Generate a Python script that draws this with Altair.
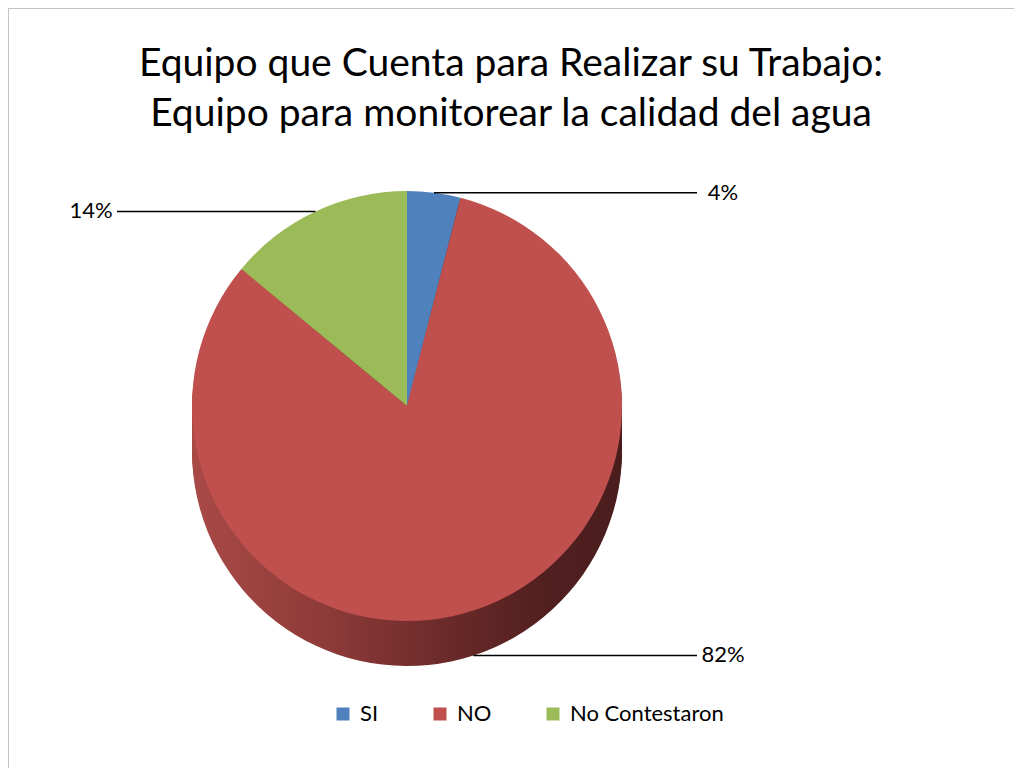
import altair as alt
import pandas as pd

# ---- data ----
categories = ["SI", "NO", "No Contestaron"]
percentages = [4, 82, 14]
colors = ["#4F81BD", "#C0504D", "#9BBB59"]
title_lines = ["Equipo que Cuenta para Realizar su Trabajo:",
               "Equipo para monitorear la calidad del agua"]

df = pd.DataFrame({"categoria": categories, "valor": percentages,
                   "orden": list(range(len(categories)))})

W, H = 1006, 760
CX, CY = 399, 398
R = 215
DEPTH = 45
REACH = 290      # horizontal reach of leader lines from the centre
FONT = "Lato"

side_fill = alt.LinearGradient(
    gradient="linear",
    stops=[alt.GradientStop(color="#a94a47", offset=0),
           alt.GradientStop(color="#8f3b39", offset=0.3),
           alt.GradientStop(color="#692a29", offset=0.6),
           alt.GradientStop(color="#521f1f", offset=0.82),
           alt.GradientStop(color="#4a1d1d", offset=1)],
    x1=0, x2=1, y1=0, y2=0)

theta_enc = dict(theta=alt.Theta("start:Q", scale=None, stack=None),
                 theta2=alt.Theta2("end:Q"))

layers = []
# border (top and left edges of the chart frame)
layers.append(alt.Chart().mark_rule(color="#c3c3c3", strokeWidth=1).encode(
    x=alt.value(0), x2=alt.value(W), y=alt.value(0.5)))
layers.append(alt.Chart().mark_rule(color="#c3c3c3", strokeWidth=1).encode(
    x=alt.value(0.5), y=alt.value(0), y2=alt.value(H)))

# side of the 3D disc (stacked copies shifted downward)
for k in range(DEPTH, 0, -3):
    layers.append(alt.Chart().mark_arc(radius=R, fill=side_fill, strokeWidth=0).encode(
        x=alt.value(CX), y=alt.value(CY + k), **theta_enc))

# top face
layers.append(alt.Chart().mark_arc(radius=R, strokeWidth=0).encode(
    x=alt.value(CX), y=alt.value(CY),
    color=alt.Color("categoria:N",
                    scale=alt.Scale(domain=categories, range=colors),
                    sort=categories,
                    legend=alt.Legend(title=None, orient="none", direction="horizontal",
                                      legendX=324, legendY=695,
                                      symbolType="square", symbolSize=169,
                                      symbolStrokeWidth=0, labelFont=FONT,
                                      labelFontSize=22, labelColor="black",
                                      labelOffset=6, columnPadding=50)),
    **theta_enc))

# leader lines and percentage labels
layers.append(alt.Chart().mark_rule(color="black", strokeWidth=1.6).encode(
    x=alt.X("ex:Q", scale=None), y=alt.Y("ey:Q", scale=None),
    x2=alt.X2("lx:Q"), y2=alt.Y2("ey:Q")))
layers.append(alt.Chart().mark_text(font=FONT, fontSize=22, color="black",
                                    align="center", baseline="middle").encode(
    x=alt.X("tx:Q", scale=None), y=alt.Y("ey:Q", scale=None), text="lab:N"))

chart = alt.layer(*layers, data=df).transform_joinaggregate(
    total="sum(valor)"
).transform_window(
    cum="sum(valor)", sort=[alt.SortField("orden")], frame=[None, 0]
).transform_calculate(
    start="2*PI*(datum.cum - datum.valor)/datum.total",
    end="2*PI*datum.cum/datum.total",
).transform_calculate(
    mid="(datum.start + datum.end)/2",
).transform_calculate(
    dir="sin(datum.mid) >= 0 ? 1 : -1",
    cyv=f"cos(datum.mid) < 0 ? {CY + DEPTH} : {CY}",
    lab="format(datum.valor/datum.total, '.0%')",
).transform_calculate(
    ex=f"{CX} + {R}*sin(datum.mid)",
    ey=f"datum.cyv - {R}*cos(datum.mid)",
    lx=f"{CX} + datum.dir*{REACH}",
).transform_calculate(
    tx="datum.lx + datum.dir*26",
).properties(
    width=W, height=H,
    title=alt.Title(text=title_lines, font=FONT, fontSize=39, fontWeight="normal",
                    color="black", anchor="middle", lineHeight=50, offset=-126),
    autosize=alt.AutoSizeParams(type="none"),
    padding=0,
).configure_view(stroke=None)

chart.save("out.html", embed_options={"renderer": "svg", "actions": False})
